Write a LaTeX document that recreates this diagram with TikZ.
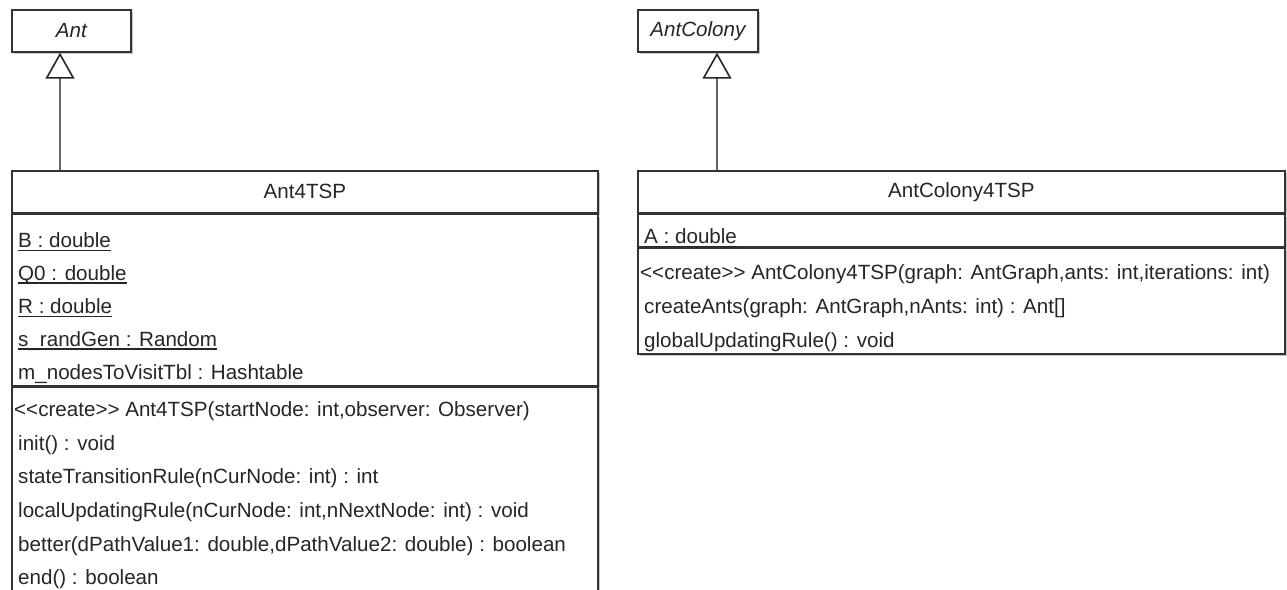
\documentclass[tikz,border=0pt]{standalone}
\usepackage{fontspec}
\setmainfont{Liberation Sans}
\usetikzlibrary{arrows.meta, shadows}

\newlength{\stw}
\newcommand{\statattr}[1]{\settowidth{\stw}{#1}\rlap{\rule[-3.5pt]{\stw}{1.4pt}}#1} % static member

\begin{document}
\begin{tikzpicture}[x=1pt, y=-1pt]
\tikzstyle{every node} = [font=\fontsize{20.6}{25}\selectfont, text=black!85]
\tikzstyle{umlbox} = [draw=black!80, line width=1.7pt, fill=white, inner sep=0pt, anchor=north west,
  drop shadow={shadow xshift=2pt, shadow yshift=-2pt, fill=black!45, opacity=.5}]
\tikzstyle{member} = [anchor=west, inner sep=0pt]
\tikzstyle{generalization} = [draw=black!60, line width=2.6pt,
  -{Triangle[open, length=26pt, width=29pt, line width=1.6pt, color=black!85]}]

\useasboundingbox (0,0) rectangle (1287,589);
\clip (0,0) rectangle (1287,589);

% superclasses
\node[umlbox, minimum width=119pt, minimum height=42pt] (ant) at (11,9) {\itshape Ant};
\node[umlbox, minimum width=120pt, minimum height=42pt] (antColony) at (637,9) {\itshape AntColony};

% Ant4TSP
\node[umlbox, minimum width=586pt, minimum height=42pt] (ant4tsp) at (11,170) {Ant4TSP}; %name
\node[umlbox, minimum width=586pt, minimum height=171pt] (ant4tspAttr) at (ant4tsp.south west) {}; %attributes
\node[umlbox, minimum width=586pt, minimum height=260pt] (ant4tspOps) at (ant4tspAttr.south west) {}; %operations, cut off below
\foreach \txt [count=\i] in {\statattr{B : double}, \statattr{Q0 : double}, \statattr{R : double},
    \statattr{s\_randGen : Random}, m\_nodesToVisitTbl : Hashtable}
  \node[member] (antAttr\i) at ([xshift=7pt, yshift={-28pt-(\i-1)*33pt}]ant4tspAttr.north west) {\txt};
\foreach \dx/\txt [count=\i] in {3/{<{}<create>{}> Ant4TSP(startNode: int,observer: Observer)},
    7/{init() : void},
    7/{stateTransitionRule(nCurNode: int) : int},
    7/{localUpdatingRule(nCurNode: int,nNextNode: int) : void},
    7/{better(dPathValue1: double,dPathValue2: double) : boolean},
    7/{end() : boolean}}
  \node[member] (antOp\i) at ([xshift=\dx pt, yshift={-25pt-(\i-1)*33.6pt}]ant4tspOps.north west) {\txt};

% AntColony4TSP
\node[umlbox, minimum width=647pt, minimum height=42pt] (antColony4tsp) at (637,170) {AntColony4TSP}; %name
\node[umlbox, minimum width=647pt, minimum height=32pt] (antColony4tspAttr) at (antColony4tsp.south west) {}; %attributes
\node[umlbox, minimum width=647pt, minimum height=106pt] (antColony4tspOps) at (antColony4tspAttr.south west) {}; %operations
\node[member] (colonyAttr1) at ([xshift=7pt, yshift=-24pt]antColony4tspAttr.north west) {\statattr{A : double}};
\foreach \dx/\txt [count=\i] in {3/{<{}<create>{}> AntColony4TSP(graph: AntGraph,ants: int,iterations: int)},
    7/{createAnts(graph: AntGraph,nAnts: int) : Ant[]},
    7/{globalUpdatingRule() : void}}
  \node[member] (colonyOp\i) at ([xshift=\dx pt, yshift={-27pt-(\i-1)*34pt}]antColony4tspOps.north west) {\txt};

% inheritance
\draw[generalization] ([xshift=49pt]ant4tsp.north west) -- ([xshift=49pt]ant.south west);
\draw[generalization] ([xshift=80pt]antColony4tsp.north west) -- ([xshift=80pt]antColony.south west);
\end{tikzpicture}
\end{document}
